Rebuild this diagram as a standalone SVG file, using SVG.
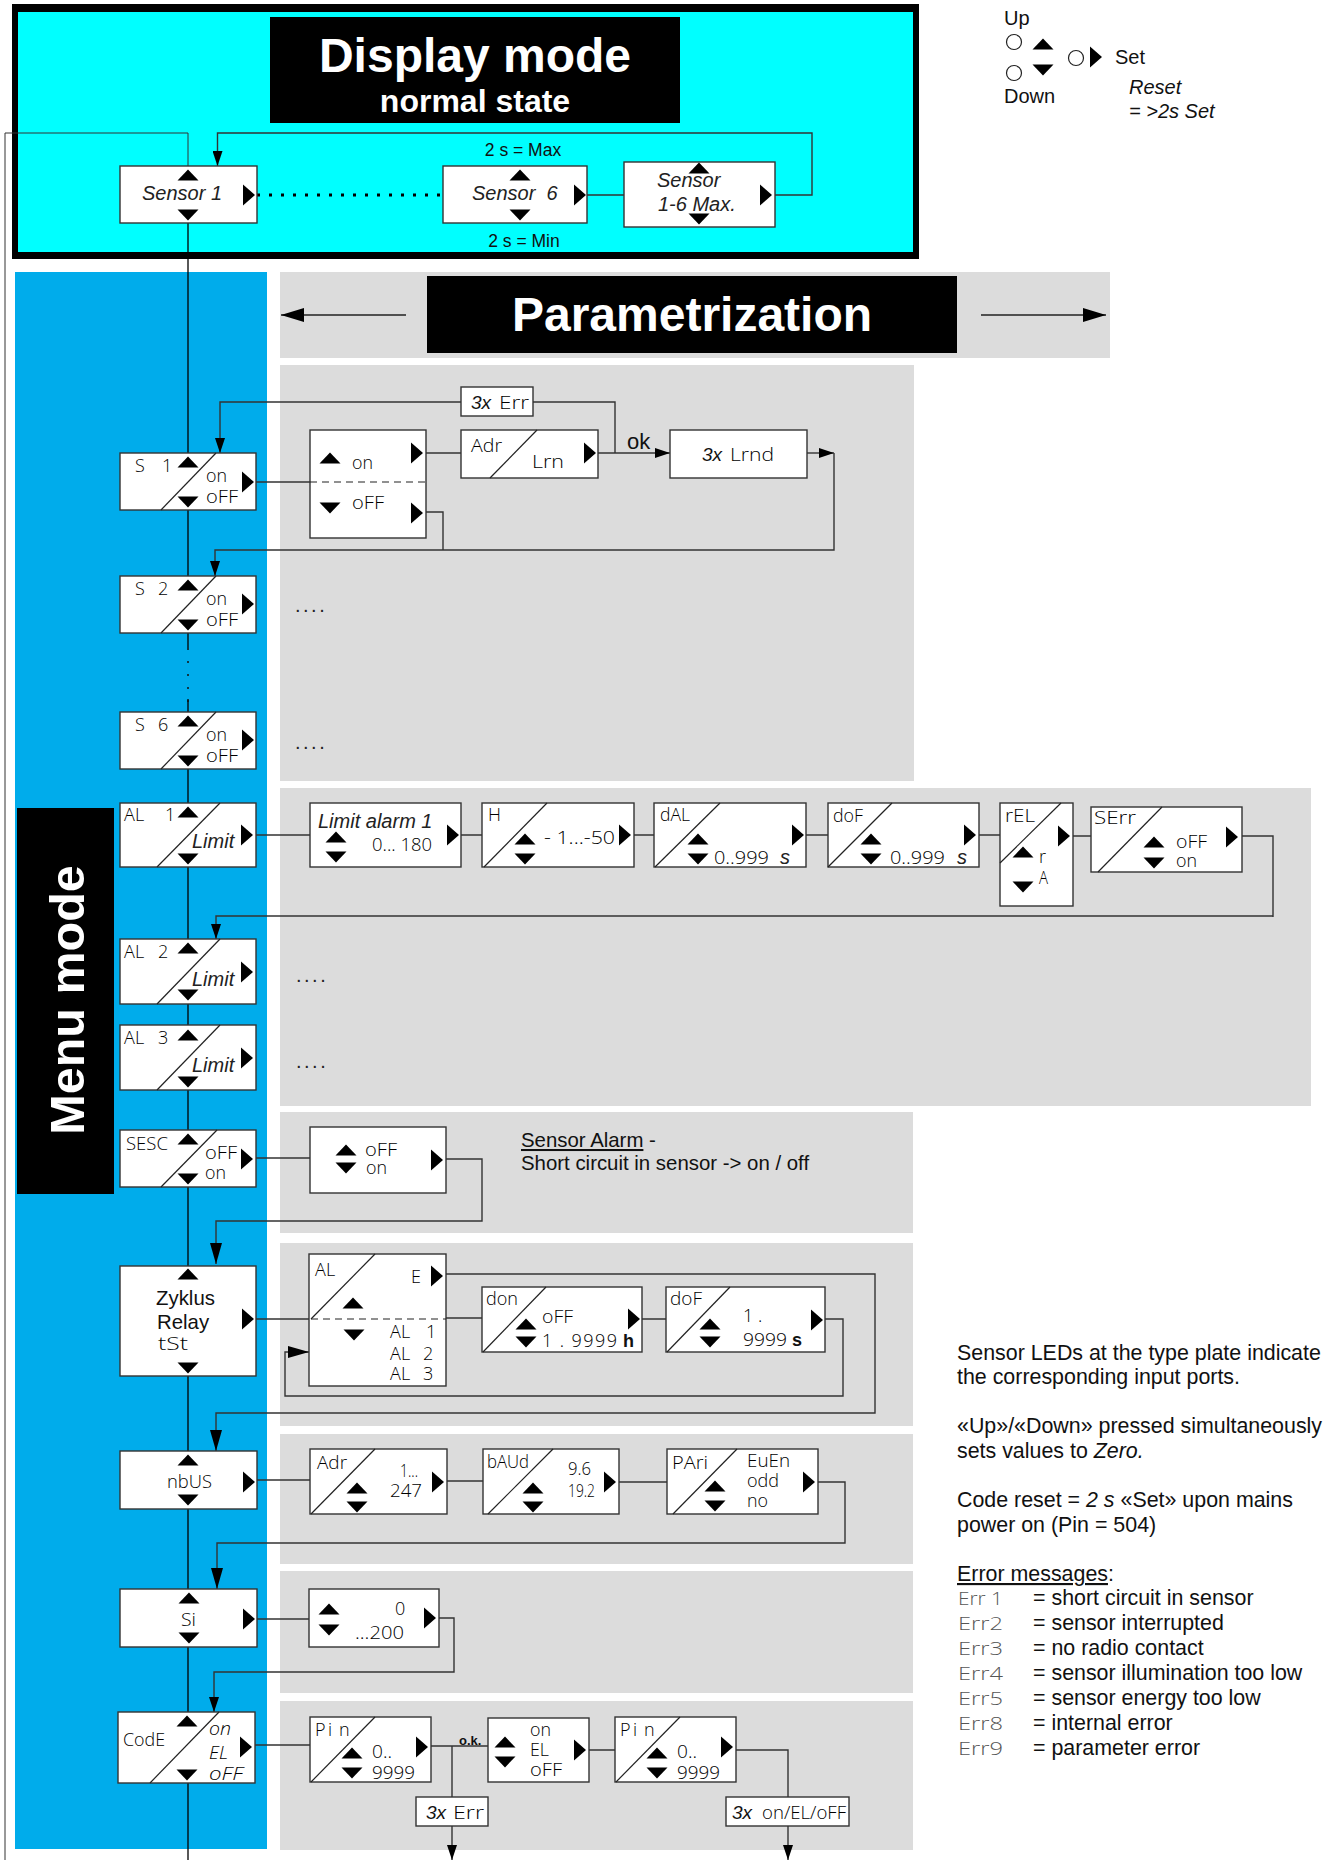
<svg xmlns="http://www.w3.org/2000/svg" width="1332" height="1860" viewBox="0 0 1332 1860">
<style>
text{font-family:"Liberation Sans",Arial,sans-serif;fill:#111}
.s{font-family:"Open Sans","DejaVu Sans",sans-serif;font-weight:300;font-size:18px;fill:#000}
.e{font-family:"Open Sans","DejaVu Sans",sans-serif;font-weight:300;font-size:18px;fill:#555}
.i{font-style:italic;font-size:20px;fill:#222}
.a{font-size:20.400px}
.t{font-size:21.400px}
.l{font-size:20px}
.b{fill:#fff;stroke:#333;stroke-width:1.4}
.d{fill:none;stroke:#222;stroke-width:1.2}
.c{fill:none;stroke:#333;stroke-width:1.4}
.p{fill:#dcdcdc}
.w{fill:#fff;font-weight:bold}
.dot{font-size:20px;letter-spacing:2.5px;fill:#222}
</style>
<defs>
<path id="u" d="M-10.500 5.500L0-5.500L10.500 5.500Z" fill="#000"/>
<path id="v" d="M-10.500-5.500L0 5.500L10.500-5.500Z" fill="#000"/>
<path id="r" d="M-6-10.500L6 0L-6 10.500Z" fill="#000"/>
<marker id="m" markerUnits="userSpaceOnUse" markerWidth="16" markerHeight="10" refX="15" refY="5" orient="auto"><path d="M0 0L15 5L0 10Z" fill="#000"/></marker>
<marker id="k" markerUnits="userSpaceOnUse" markerWidth="22" markerHeight="14" refX="21" refY="7" orient="auto"><path d="M0 1L21 7L0 13Z" fill="#000"/></marker>
<marker id="h" markerUnits="userSpaceOnUse" markerWidth="24" markerHeight="14" refX="23" refY="7" orient="auto"><path d="M0 0L23 7L0 14Z" fill="#000"/></marker>
</defs>

<g id="panels">
<rect x="12" y="4" width="907" height="255" fill="#000"/>
<rect x="18" y="12" width="895" height="240" fill="#0ff"/>
<rect x="15" y="272" width="252" height="1577" fill="#00aceb"/>
<rect class="p" x="280" y="272" width="830" height="86"/>
<rect class="p" x="280" y="365" width="634" height="416"/>
<rect class="p" x="280" y="788" width="1031" height="318"/>
<rect class="p" x="280" y="1112" width="633" height="121"/>
<rect class="p" x="280" y="1243" width="633" height="183"/>
<rect class="p" x="280" y="1434" width="633" height="130"/>
<rect class="p" x="280" y="1571" width="633" height="122"/>
<rect class="p" x="280" y="1701" width="633" height="149"/>
</g>

<g id="title-display">
<rect x="270" y="17" width="410" height="106" fill="#000"/>
<text class="w" x="475" y="72" font-size="48" text-anchor="middle">Display mode</text>
<text class="w" x="475" y="112" font-size="32" text-anchor="middle">normal state</text>
<text x="523" y="156" font-size="17.500" text-anchor="middle">2 s = Max</text>
<text x="524" y="247" font-size="17.500" text-anchor="middle">2 s = Min</text>
</g>
<g id="title-param">
<rect x="427" y="276" width="530" height="77" fill="#000"/>
<text class="w" x="692" y="331" font-size="48" text-anchor="middle">Parametrization</text>
</g>
<g id="title-menu">
<rect x="17" y="808" width="97" height="386" fill="#000"/>
<text class="w" transform="translate(84 1000) rotate(-90)" font-size="48.500" text-anchor="middle">Menu mode</text>
</g>

<g id="legend">
<text class="l" x="1004" y="25">Up</text>
<ellipse cx="1014" cy="42" rx="7.500" ry="7.500" fill="#fff" stroke="#222" stroke-width="1.2"/>
<ellipse cx="1014" cy="73" rx="7.500" ry="7.500" fill="#fff" stroke="#222" stroke-width="1.2"/>
<use href="#u" x="1043" y="44"/><use href="#v" x="1043" y="70"/>
<text class="l" x="1004" y="103">Down</text>
<ellipse cx="1076" cy="58" rx="7.500" ry="7.500" fill="#fff" stroke="#222" stroke-width="1.2"/>
<use href="#r" x="1096" y="57"/>
<text class="l" x="1115" y="64">Set</text>
<text class="l" x="1129" y="94" font-style="italic">Reset</text>
<text class="l" x="1129" y="118" font-style="italic">= &gt;2s Set</text>
</g>

<g id="connectors">
<path d="M5 1860V133H188V166" fill="none" stroke="#333" stroke-width="1"/>
<path d="M188 223V648M188 699V1860" fill="none" stroke="#000" stroke-width="1.300"/>
<path d="M188 648V712" fill="none" stroke="#111" stroke-width="1.500" stroke-dasharray="2 11"/>
<path d="M257 195H443" fill="none" stroke="#000" stroke-width="3" stroke-dasharray="3 9"/>
<path class="c" d="M587 195H624M775 195H812V133H217.500V166" marker-end="url(#m)"/>
<path d="M406 315H281" stroke="#222" stroke-width="1.500" marker-end="url(#h)"/>
<path d="M981 315H1106" stroke="#222" stroke-width="1.500" marker-end="url(#h)"/>
<path class="c" d="M256 482H310M426 453H461"/>
<path class="c" d="M598 453H670" marker-end="url(#m)"/>
<path class="c" d="M807 453H834" marker-end="url(#m)"/>
<path class="c" d="M834 453V550H215V576" marker-end="url(#m)"/>
<path class="c" d="M426 512H443V550"/>
<path class="c" d="M461 402H220V453" marker-end="url(#m)"/>
<path class="c" d="M533 402H615V453"/>
<path class="c" d="M256 835H310M461 835H482M634 835H654M806 835H828M979 835H1000M1073 836H1091"/>
<path class="c" d="M1242 836H1273V917M1273 916H216V939" marker-end="url(#m)"/>
<path class="c" d="M256 1158H310"/>
<path class="c" d="M446 1159H482V1221H216V1264" marker-end="url(#k)"/>
<path class="c" d="M256 1319H309M446 1318H482M642 1319H666"/>
<path class="c" d="M825 1319H843V1396H285V1352H309" marker-end="url(#k)"/>
<path class="c" d="M446 1274H875V1413H216V1451" marker-end="url(#k)"/>
<path class="c" d="M257 1480H310M447 1481H483M619 1482H667"/>
<path class="c" d="M818 1482H845V1543H217V1589" marker-end="url(#k)"/>
<path class="c" d="M257 1619H309"/>
<path class="c" d="M439 1618H454V1672H214V1712" marker-end="url(#m)"/>
<path class="c" d="M255 1745H310M431 1746H488M589 1750H615M452 1746V1797"/>
<path class="c" d="M736 1750H788V1797"/>
<path class="c" d="M452 1826V1860" marker-end="url(#m)"/>
<path class="c" d="M788 1826V1860" marker-end="url(#m)"/>
</g>

<g id="sensor1"><rect class="b" x="120" y="166" width="137" height="57"/><use href="#u" x="188" y="175"/><use href="#v" x="188" y="215"/><use href="#r" x="249" y="195"/><text class="i" x="142" y="200">Sensor 1</text></g>
<g id="sensor6"><rect class="b" x="443" y="166" width="144" height="57"/><use href="#u" x="520" y="175"/><use href="#v" x="520" y="215"/><use href="#r" x="580" y="195"/><text class="i" x="472" y="200" xml:space="preserve">Sensor  6</text></g>
<g id="sensormax"><rect class="b" x="624" y="162" width="151" height="65"/><use href="#u" x="699" y="168"/><use href="#v" x="699" y="219"/><use href="#r" x="766" y="195"/><text class="i" x="657" y="187">Sensor</text><text class="i" x="658" y="211">1-6 Max.</text></g>

<g id="s1"><rect class="b" x="120" y="453" width="136" height="57"/><path class="d" d="M216 453L161 510"/><use href="#u" x="188" y="462"/><use href="#v" x="188" y="502"/><use href="#r" x="248" y="482"/><text class="s" x="135 150 162" y="472">S 1</text><text class="s" x="206" y="482" textLength="21" lengthAdjust="spacingAndGlyphs">on</text><text class="s" x="206" y="503" textLength="32" lengthAdjust="spacingAndGlyphs">oFF</text></g>
<g id="s2"><rect class="b" x="120" y="576" width="136" height="57"/><path class="d" d="M216 576L161 633"/><use href="#u" x="188" y="585"/><use href="#v" x="188" y="625"/><use href="#r" x="248" y="604"/><text class="s" x="135 150 158" y="595">S 2</text><text class="s" x="206" y="605" textLength="21" lengthAdjust="spacingAndGlyphs">on</text><text class="s" x="206" y="626" textLength="32" lengthAdjust="spacingAndGlyphs">oFF</text></g>
<g id="s6"><rect class="b" x="120" y="712" width="136" height="57"/><path class="d" d="M216 712L161 769"/><use href="#u" x="188" y="721"/><use href="#v" x="188" y="761"/><use href="#r" x="248" y="740"/><text class="s" x="135 150 158" y="731">S 6</text><text class="s" x="206" y="741" textLength="21" lengthAdjust="spacingAndGlyphs">on</text><text class="s" x="206" y="762" textLength="32" lengthAdjust="spacingAndGlyphs">oFF</text></g>

<g id="onoff"><rect class="b" x="310" y="430" width="116" height="108"/><path class="d" d="M310 482H426" stroke-dasharray="7 5"/><use href="#u" x="330" y="458"/><use href="#v" x="330" y="508"/><use href="#r" x="417" y="453"/><use href="#r" x="417" y="513"/><text class="s" x="352" y="469" textLength="21" lengthAdjust="spacingAndGlyphs">on</text><text class="s" x="352" y="509" textLength="32" lengthAdjust="spacingAndGlyphs">oFF</text></g>
<g id="adrlrn"><rect class="b" x="461" y="430" width="137" height="48"/><path class="d" d="M537 430L490 478"/><use href="#r" x="590" y="453"/><text class="s" x="471" y="452" textLength="31" lengthAdjust="spacingAndGlyphs">Adr</text><text class="s" x="532" y="468" textLength="32" lengthAdjust="spacingAndGlyphs">Lrn</text></g>
<g id="lrnd"><rect class="b" x="670" y="430" width="137" height="48"/><text x="702" y="461" font-size="19" font-style="italic">3x</text><text class="s" x="730" y="461" textLength="44" lengthAdjust="spacingAndGlyphs">Lrnd</text></g>
<g id="err1"><rect class="b" x="461" y="387" width="72" height="29"/><text x="471" y="409" font-size="19" font-style="italic">3x</text><text class="s" x="499" y="409" textLength="30" lengthAdjust="spacingAndGlyphs">Err</text></g>
<text id="ok" x="627" y="449" font-size="22">ok</text>
<text class="dot" x="295" y="612">....</text>
<text class="dot" x="295" y="749">....</text>
<text class="dot" x="296" y="982">....</text>
<text class="dot" x="296" y="1068">....</text>

<g id="al1"><rect class="b" x="120" y="803" width="136" height="64"/><path class="d" d="M220 803L157 867"/><use href="#u" x="188" y="812"/><use href="#v" x="188" y="859"/><use href="#r" x="247" y="835"/><text class="s" x="124 135 150 165" y="821">AL 1</text><text class="i" x="192" y="848">Limit</text></g>
<g id="al2"><rect class="b" x="120" y="939" width="136" height="65"/><path class="d" d="M220 939L157 1004"/><use href="#u" x="188" y="948"/><use href="#v" x="188" y="995"/><use href="#r" x="247" y="972"/><text class="s" x="124 135 150 158" y="958">AL 2</text><text class="i" x="192" y="986">Limit</text></g>
<g id="al3"><rect class="b" x="120" y="1025" width="136" height="65"/><path class="d" d="M220 1025L157 1090"/><use href="#u" x="188" y="1035"/><use href="#v" x="188" y="1082"/><use href="#r" x="247" y="1058"/><text class="s" x="124 135 150 158" y="1044">AL 3</text><text class="i" x="192" y="1072">Limit</text></g>

<g id="limit1"><rect class="b" x="310" y="803" width="151" height="64"/><use href="#u" x="336" y="837"/><use href="#v" x="336" y="857"/><use href="#r" x="453" y="835"/><text class="i" x="318" y="828">Limit alarm 1</text><text class="s" x="372" y="851" textLength="60" lengthAdjust="spacingAndGlyphs">0... 180</text></g>
<g id="h-node"><rect class="b" x="482" y="803" width="152" height="64"/><path class="d" d="M547 803L484 867"/><use href="#u" x="525" y="839"/><use href="#v" x="525" y="859"/><use href="#r" x="625" y="835"/><text class="s" x="488" y="821">H</text><text class="s" x="544" y="844" textLength="71" lengthAdjust="spacingAndGlyphs">- 1...-50</text></g>
<g id="dal"><rect class="b" x="654" y="803" width="152" height="64"/><path class="d" d="M720 803L655 867"/><use href="#u" x="698" y="839"/><use href="#v" x="698" y="859"/><use href="#r" x="798" y="835"/><text class="s" x="660" y="821" textLength="30" lengthAdjust="spacingAndGlyphs">dAL</text><text class="s" x="714" y="864" textLength="55" lengthAdjust="spacingAndGlyphs">0..999</text><text class="i" x="780" y="864">s</text></g>
<g id="dof1"><rect class="b" x="828" y="803" width="151" height="64"/><path class="d" d="M892 803L828 867"/><use href="#u" x="871" y="839"/><use href="#v" x="871" y="859"/><use href="#r" x="970" y="835"/><text class="s" x="833" y="822" textLength="30" lengthAdjust="spacingAndGlyphs">doF</text><text class="s" x="890" y="864" textLength="55" lengthAdjust="spacingAndGlyphs">0..999</text><text class="i" x="957" y="864">s</text></g>
<g id="rel"><rect class="b" x="1000" y="803" width="73" height="103"/><path class="d" d="M1061 803L1000 863"/><use href="#u" x="1023" y="852"/><use href="#v" x="1023" y="887"/><use href="#r" x="1064" y="836"/><text class="s" x="1005" y="822" textLength="30" lengthAdjust="spacingAndGlyphs">rEL</text><text class="s" x="1039" y="863">r</text><text class="s" x="1039" y="884" textLength="9" lengthAdjust="spacingAndGlyphs">A</text></g>
<g id="serr"><rect class="b" x="1091" y="807" width="151" height="65"/><path class="d" d="M1162 807L1098 872"/><use href="#u" x="1154" y="842"/><use href="#v" x="1154" y="863"/><use href="#r" x="1232" y="837"/><text class="s" x="1094" y="824" textLength="42" lengthAdjust="spacingAndGlyphs">SErr</text><text class="s" x="1176" y="848" textLength="31" lengthAdjust="spacingAndGlyphs">oFF</text><text class="s" x="1176" y="867" textLength="21" lengthAdjust="spacingAndGlyphs">on</text></g>

<g id="sesc"><rect class="b" x="120" y="1130" width="136" height="57"/><path class="d" d="M217 1130L161 1187"/><use href="#u" x="188" y="1139"/><use href="#v" x="188" y="1179"/><use href="#r" x="247" y="1159"/><text class="s" x="126" y="1150" textLength="42" lengthAdjust="spacingAndGlyphs">SESC</text><text class="s" x="205" y="1159" textLength="32" lengthAdjust="spacingAndGlyphs">oFF</text><text class="s" x="205" y="1179" textLength="21" lengthAdjust="spacingAndGlyphs">on</text></g>
<g id="sesc2"><rect class="b" x="310" y="1127" width="136" height="66"/><use href="#u" x="346" y="1150"/><use href="#v" x="346" y="1168"/><use href="#r" x="437" y="1160"/><text class="s" x="365" y="1156" textLength="32" lengthAdjust="spacingAndGlyphs">oFF</text><text class="s" x="366" y="1174" textLength="21" lengthAdjust="spacingAndGlyphs">on</text></g>
<text class="a" x="521" y="1147"><tspan text-decoration="underline">Sensor Alarm</tspan> -</text>
<text class="a" x="521" y="1170">Short circuit in sensor -&gt; on / off</text>

<g id="zyklus"><rect class="b" x="120" y="1266" width="136" height="110"/><use href="#u" x="188" y="1274"/><use href="#v" x="188" y="1368"/><use href="#r" x="248" y="1319"/><text class="a" x="156" y="1305">Zyklus</text><text class="a" x="157" y="1329">Relay</text><text class="s" x="158" y="1350" textLength="30" lengthAdjust="spacingAndGlyphs">tSt</text></g>
<g id="alrelay"><rect class="b" x="309" y="1254" width="137" height="132"/><path class="d" d="M375 1254L311 1319"/><path class="d" d="M311 1319H446" stroke-dasharray="7 5"/><use href="#r" x="437" y="1276"/><use href="#u" x="353" y="1303"/><use href="#v" x="354" y="1335"/><text class="s" x="315 326" y="1276">AL</text><text class="s" x="411" y="1283">E</text><text class="s" x="390 401 414 426" y="1338">AL 1</text><text class="s" x="390 401 414 423" y="1360">AL 2</text><text class="s" x="390 401 414 423" y="1380">AL 3</text></g>
<g id="don"><rect class="b" x="482" y="1287" width="160" height="65"/><path class="d" d="M546 1287L483 1352"/><use href="#u" x="526" y="1324"/><use href="#v" x="526" y="1342"/><use href="#r" x="634" y="1319"/><text class="s" x="486" y="1305" textLength="32" lengthAdjust="spacingAndGlyphs">don</text><text class="s" x="542" y="1323" textLength="31" lengthAdjust="spacingAndGlyphs">oFF</text><text class="s" x="542" y="1347" textLength="75" lengthAdjust="spacing">1 . 9999</text><text x="623" y="1347" font-size="18" font-weight="bold">h</text></g>
<g id="dof2"><rect class="b" x="666" y="1287" width="159" height="65"/><path class="d" d="M730 1287L667 1352"/><use href="#u" x="710" y="1324"/><use href="#v" x="710" y="1342"/><use href="#r" x="817" y="1320"/><text class="s" x="670" y="1305" textLength="32" lengthAdjust="spacingAndGlyphs">doF</text><text class="s" x="743" y="1322">1 .</text><text class="s" x="743" y="1346" textLength="44" lengthAdjust="spacingAndGlyphs">9999</text><text x="792" y="1346" font-size="18" font-weight="bold">s</text></g>

<g id="mbus"><rect class="b" x="120" y="1451" width="137" height="58"/><use href="#u" x="188" y="1460"/><use href="#v" x="188" y="1500"/><use href="#r" x="249" y="1482"/><text class="s" x="167" y="1488" textLength="45" lengthAdjust="spacingAndGlyphs">nbUS</text></g>
<g id="adr"><rect class="b" x="310" y="1449" width="137" height="65"/><path class="d" d="M375 1449L311 1514"/><use href="#u" x="357" y="1488"/><use href="#v" x="357" y="1507"/><use href="#r" x="438" y="1482"/><text class="s" x="317" y="1469" textLength="30" lengthAdjust="spacingAndGlyphs">Adr</text><text class="s" x="400" y="1477" textLength="18" lengthAdjust="spacingAndGlyphs">1...</text><text class="s" x="390" y="1497" textLength="32" lengthAdjust="spacingAndGlyphs">247</text></g>
<g id="baud"><rect class="b" x="483" y="1449" width="136" height="65"/><path class="d" d="M553 1449L488 1514"/><use href="#u" x="533" y="1488"/><use href="#v" x="533" y="1507"/><use href="#r" x="610" y="1482"/><text class="s" x="487" y="1468" textLength="42" lengthAdjust="spacingAndGlyphs">bAUd</text><text class="s" x="568" y="1475" textLength="23" lengthAdjust="spacingAndGlyphs">9.6</text><text class="s" x="568" y="1497" textLength="27" lengthAdjust="spacingAndGlyphs">19.2</text></g>
<g id="pari"><rect class="b" x="667" y="1449" width="151" height="65"/><path class="d" d="M737 1449L673 1514"/><use href="#u" x="715" y="1486"/><use href="#v" x="715" y="1506"/><use href="#r" x="809" y="1482"/><text class="s" x="672" y="1469" textLength="36" lengthAdjust="spacingAndGlyphs">PAri</text><text class="s" x="747" y="1467" textLength="43" lengthAdjust="spacingAndGlyphs">EuEn</text><text class="s" x="747" y="1487" textLength="32" lengthAdjust="spacingAndGlyphs">odd</text><text class="s" x="747" y="1507" textLength="21" lengthAdjust="spacingAndGlyphs">no</text></g>

<g id="si"><rect class="b" x="120" y="1589" width="137" height="58"/><use href="#u" x="189" y="1598"/><use href="#v" x="189" y="1638"/><use href="#r" x="249" y="1619"/><text class="s" x="181" y="1626" textLength="15" lengthAdjust="spacingAndGlyphs">Si</text></g>
<g id="si2"><rect class="b" x="309" y="1589" width="130" height="58"/><use href="#u" x="329" y="1609"/><use href="#v" x="329" y="1630"/><use href="#r" x="430" y="1618"/><text class="s" x="395" y="1615">0</text><text class="s" x="355" y="1639" textLength="49" lengthAdjust="spacingAndGlyphs">...200</text></g>

<g id="code"><rect class="b" x="118" y="1712" width="137" height="71"/><path class="d" d="M219 1712L150 1783"/><use href="#u" x="187" y="1721"/><use href="#v" x="187" y="1775"/><use href="#r" x="246" y="1747"/><text class="s" x="123" y="1746" textLength="42" lengthAdjust="spacingAndGlyphs">CodE</text><text class="s" x="209" y="1735" font-style="italic" textLength="22" lengthAdjust="spacingAndGlyphs">on</text><text class="s" x="209" y="1759" font-style="italic" textLength="19" lengthAdjust="spacingAndGlyphs">EL</text><text class="s" x="209" y="1780" font-style="italic" textLength="34" lengthAdjust="spacingAndGlyphs">oFF</text></g>
<g id="pin1"><rect class="b" x="310" y="1717" width="121" height="65"/><path class="d" d="M375 1717L311 1782"/><use href="#u" x="352" y="1753"/><use href="#v" x="352" y="1773"/><use href="#r" x="422" y="1747"/><text class="s" x="315 328 339" y="1736">Pin</text><text class="s" x="372" y="1758" textLength="20" lengthAdjust="spacingAndGlyphs">0..</text><text class="s" x="372" y="1779" textLength="43" lengthAdjust="spacingAndGlyphs">9999</text></g>
<text x="459" y="1745" font-size="13" font-weight="bold">o.k.</text>
<g id="codeset"><rect class="b" x="488" y="1718" width="101" height="64"/><use href="#u" x="505" y="1742"/><use href="#v" x="505" y="1762"/><use href="#r" x="580" y="1750"/><text class="s" x="530" y="1736" textLength="21" lengthAdjust="spacingAndGlyphs">on</text><text class="s" x="530" y="1756" textLength="19" lengthAdjust="spacingAndGlyphs">EL</text><text class="s" x="530" y="1776" textLength="32" lengthAdjust="spacingAndGlyphs">oFF</text></g>
<g id="pin2"><rect class="b" x="615" y="1717" width="121" height="65"/><path class="d" d="M680 1717L616 1782"/><use href="#u" x="657" y="1753"/><use href="#v" x="657" y="1773"/><use href="#r" x="727" y="1747"/><text class="s" x="620 633 644" y="1736">Pin</text><text class="s" x="677" y="1758" textLength="20" lengthAdjust="spacingAndGlyphs">0..</text><text class="s" x="677" y="1779" textLength="43" lengthAdjust="spacingAndGlyphs">9999</text></g>
<g id="err2"><rect class="b" x="416" y="1797" width="72" height="29"/><text x="426" y="1819" font-size="19" font-style="italic">3x</text><text class="s" x="453" y="1819" textLength="31" lengthAdjust="spacingAndGlyphs">Err</text></g>
<g id="err3"><rect class="b" x="726" y="1797" width="123" height="29"/><text x="732" y="1819" font-size="19" font-style="italic">3x</text><text class="s" x="762" y="1819" textLength="84" lengthAdjust="spacingAndGlyphs">on/EL/oFF</text></g>

<g id="notes">
<text class="t" x="957" y="1360">Sensor LEDs at the type plate indicate</text>
<text class="t" x="957" y="1384">the corresponding input ports.</text>
<text class="t" x="957" y="1433">«Up»/«Down» pressed simultaneously</text>
<text class="t" x="957" y="1458">sets values to <tspan font-style="italic">Zero.</tspan></text>
<text class="t" x="957" y="1507">Code reset = <tspan font-style="italic">2 s</tspan> «Set» upon mains</text>
<text class="t" x="957" y="1532">power on (Pin = 504)</text>
<text class="t" x="957" y="1581"><tspan text-decoration="underline">Error messages</tspan>:</text>
<text class="e" x="958" y="1605" textLength="45" lengthAdjust="spacingAndGlyphs">Err 1</text><text class="t" x="1033" y="1605">= short circuit in sensor</text>
<text class="e" x="958" y="1630" textLength="45" lengthAdjust="spacingAndGlyphs">Err2</text><text class="t" x="1033" y="1630">= sensor interrupted</text>
<text class="e" x="958" y="1655" textLength="45" lengthAdjust="spacingAndGlyphs">Err3</text><text class="t" x="1033" y="1655">= no radio contact</text>
<text class="e" x="958" y="1680" textLength="45" lengthAdjust="spacingAndGlyphs">Err4</text><text class="t" x="1033" y="1680">= sensor illumination too low</text>
<text class="e" x="958" y="1705" textLength="45" lengthAdjust="spacingAndGlyphs">Err5</text><text class="t" x="1033" y="1705">= sensor energy too low</text>
<text class="e" x="958" y="1730" textLength="45" lengthAdjust="spacingAndGlyphs">Err8</text><text class="t" x="1033" y="1730">= internal error</text>
<text class="e" x="958" y="1755" textLength="45" lengthAdjust="spacingAndGlyphs">Err9</text><text class="t" x="1033" y="1755">= parameter error</text>
</g>
</svg>
